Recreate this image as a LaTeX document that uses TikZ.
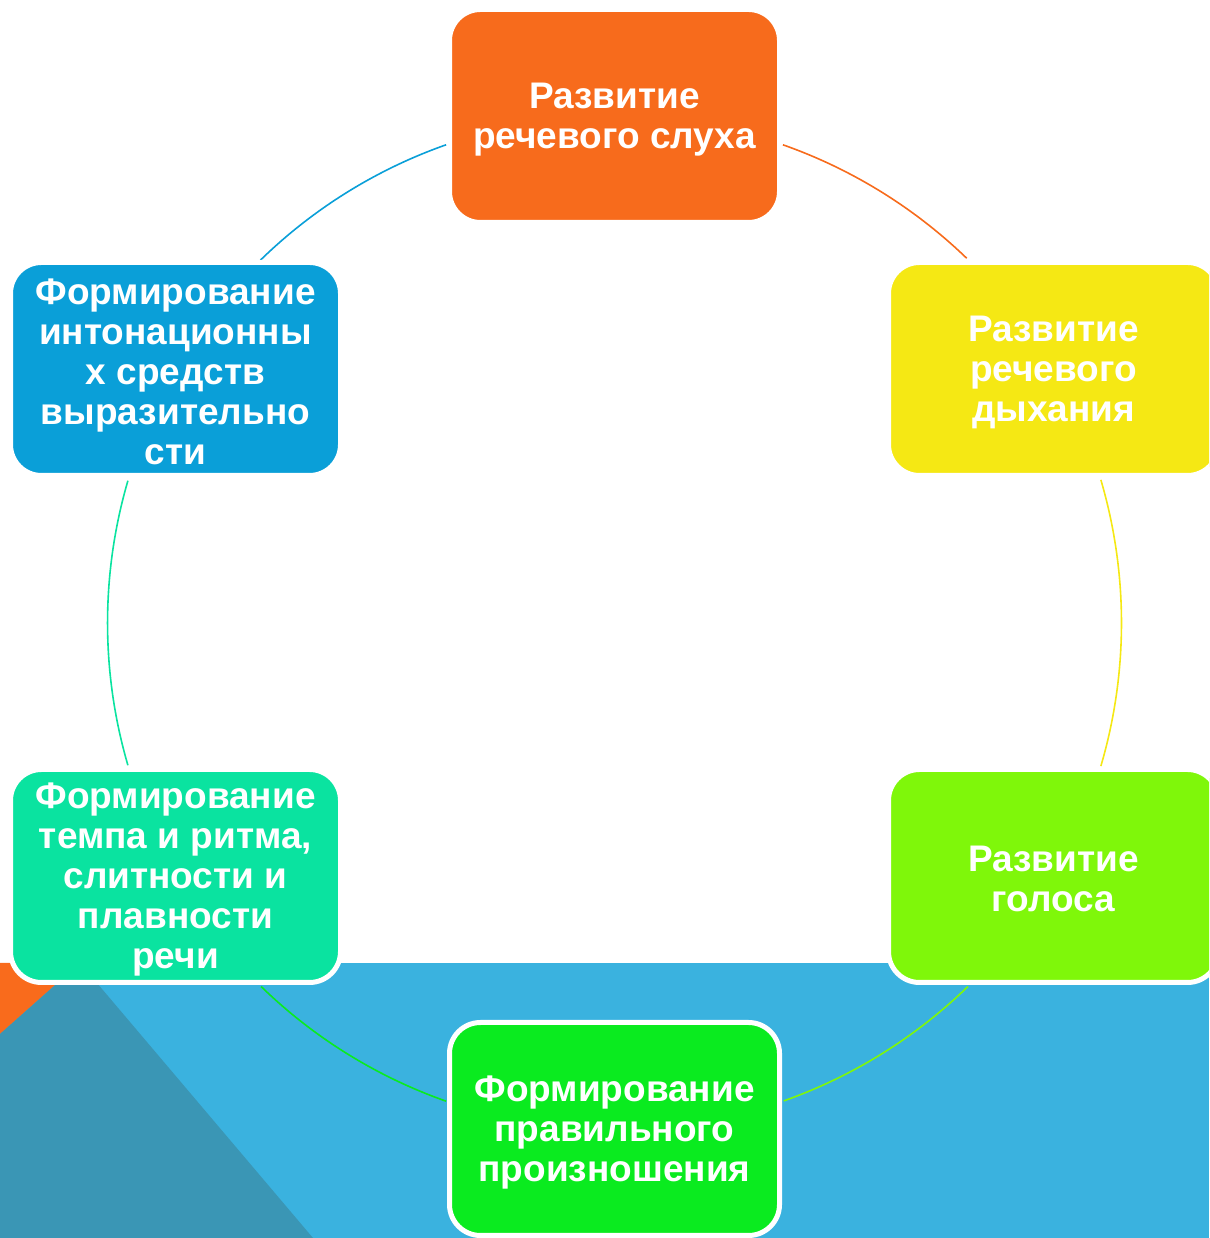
\documentclass[tikz,border=0pt]{standalone}
\usepackage{fontspec}
\setmainfont{Liberation Sans}
\definecolor{cOrange}{HTML}{F76B1C}
\definecolor{cYellow}{HTML}{F5E814}
\definecolor{cLime}{HTML}{7FF70A}
\definecolor{cGreen}{HTML}{0AEB1F}
\definecolor{cTeal}{HTML}{0AE3A0}
\definecolor{cBlue}{HTML}{0A9FD8}
\definecolor{bgBand}{HTML}{3AB2DF}
\definecolor{bgDark}{HTML}{3A96B5}
\definecolor{bgOrange}{HTML}{F96B1C}
\newcommand{\liftline}{\rule{0pt}{32pt}}
\tikzset{
  topic/.style={draw=white, line width=5pt, rounded corners=31pt,
    minimum width=330pt, minimum height=213pt, inner sep=0pt,
    align=center, text=white,
    font=\fontsize{37}{40}\selectfont\bfseries},
  ring/.style={line width=1.6pt}
}
\begin{document}
\begin{tikzpicture}[x=1pt,y=1pt]
\useasboundingbox (0,0) rectangle (1209,1238);
\clip (0,0) rectangle (1209,1238);
% background
\fill[bgBand] (0,0) rectangle (1209,275);
\fill[bgOrange] (0,275) -- (80,275) -- (0,204) -- cycle;
\fill[bgDark] (0,0) -- (0,204) -- (80,275) -- (313,0) -- cycle;
% ring
\coordinate (c) at (614.5,615);
\draw[ring, cOrange] (c) ++(70.6:507) arc[start angle=70.6, end angle=46, radius=507];
\draw[ring, cYellow] (c) ++(16.4:507) arc[start angle=16.4, end angle=-16.4, radius=507];
\draw[ring, cLime] (c) ++(-45.8:507) arc[start angle=-45.8, end angle=-70.5, radius=507];
\draw[ring, cGreen] (c) ++(-109.4:507) arc[start angle=-109.4, end angle=-134.2, radius=507];
\draw[ring, cTeal] (c) ++(196.3:507) arc[start angle=196.3, end angle=163.7, radius=507];
\draw[ring, cBlue] (c) ++(134.3:507) arc[start angle=134.3, end angle=109.4, radius=507];
% boxes
\node[topic, fill=cOrange] (n1) at (614.5,1122) {\liftline Развитие\\речевого слуха};
\node[topic, fill=cYellow] (n2) at (1053.5,869) {\liftline Развитие\\речевого\\дыхания};
\node[topic, fill=cLime] (n3) at (1053.5,362) {\liftline Развитие\\голоса};
\node[topic, fill=cGreen] (n4) at (614.5,109) {\liftline Формирование\\правильного\\произношения};
\node[topic, fill=cTeal] (n5) at (175.5,362) {\liftline Формирование\\темпа и ритма,\\слитности и\\плавности\\речи};
\node[topic, fill=cBlue] (n6) at (175.5,869) {\liftline Формирование\\интонационны\\х средств\\выразительно\\сти};
\end{tikzpicture}
\end{document}
